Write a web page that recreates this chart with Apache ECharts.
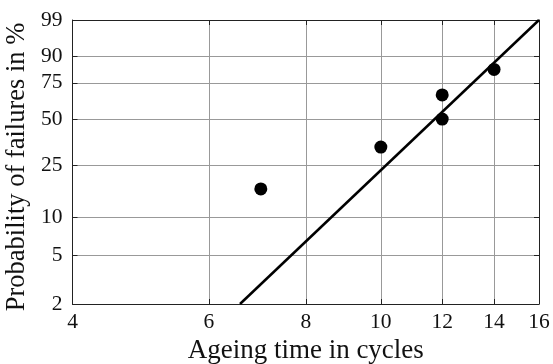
<!DOCTYPE html>
<html><head><meta charset="utf-8">
<script src="https://cdn.jsdelivr.net/npm/echarts@6/dist/echarts.min.js"></script>
<style>html,body{margin:0;padding:0;background:#fff}#c{width:553px;height:364px}</style>
</head><body><div id="c"></div>
<script>
const tickT = [4, 6, 8, 10, 12, 14, 16];
const tickP = [2, 5, 10, 25, 50, 75, 90, 99];
const failT = [7, 10, 12, 12, 14];
const failP = [16.67, 33.33, 50, 66.67, 83.33];
const fitT = [6.58, 16];
const fitP = [2, 99];

const fx = t => Math.log(t);
const fy = p => Math.log(-Math.log(1 - p / 100));
const ix = v => Math.round(Math.exp(v));
const iy = v => Math.round(100 * (1 - Math.exp(-Math.exp(v))));
const FONT = "'Liberation Serif', 'DejaVu Serif', serif";
const xs = tickT.map(fx), ys = tickP.map(fy);
const xmin = fx(tickT[0]), xmax = fx(tickT[tickT.length - 1]);
const ymin = fy(tickP[0]), ymax = fy(tickP[tickP.length - 1]);

function xAx(show) {
  return {
    type: 'value', min: xmin, max: xmax, position: show ? 'bottom' : 'top',
    name: show ? 'Ageing time in cycles' : '', nameLocation: 'middle', nameGap: 30,
    nameTextStyle: { fontFamily: FONT, fontSize: 27, color: '#111' },
    axisLine: { show: true, onZero: false, lineStyle: { color: '#222', width: 1 } },
    axisTick: { show: true, inside: true, length: 5, customValues: xs, lineStyle: { color: '#222' } },
    axisLabel: { show: show, customValues: xs, formatter: v => ix(v), margin: 7,
      fontFamily: FONT, fontSize: 21.5, color: '#111' },
    splitLine: { show: show, lineStyle: { color: '#999', width: 1 } }
  };
}
function yAx(show) {
  return {
    type: 'value', min: ymin, max: ymax, position: show ? 'left' : 'right',
    name: show ? 'Probability of failures in %' : '', nameLocation: 'middle', nameGap: 37,
    nameTextStyle: { fontFamily: FONT, fontSize: 26.5, color: '#111', padding: [0, 10, 0, 0] },
    axisLine: { show: true, onZero: false, lineStyle: { color: '#222', width: 1 } },
    axisTick: { show: true, inside: true, length: 5, customValues: ys, lineStyle: { color: '#222' } },
    axisLabel: { show: show, customValues: ys, formatter: v => iy(v), margin: 10,
      fontFamily: FONT, fontSize: 21.5, color: '#111' },
    splitLine: { show: show, lineStyle: { color: '#999', width: 1 } }
  };
}

const chart = echarts.init(document.getElementById('c'), null, { renderer: 'canvas' });
chart.setOption({
  animation: false,
  grid: { left: 72.5, right: 14, top: 20, bottom: 60, containLabel: false, outerBoundsMode: 'none' },
  xAxis: [xAx(true), xAx(false)],
  yAxis: [yAx(true), yAx(false)],
  series: [
    { type: 'line', data: fitT.map((t, i) => [fx(t), fy(fitP[i])]), symbol: 'none',
      lineStyle: { color: '#000', width: 2.5 }, z: 3 },
    { type: 'scatter', data: failT.map((t, i) => [fx(t), fy(failP[i])]), symbol: 'circle',
      symbolSize: 13, itemStyle: { color: '#000', opacity: 1 }, z: 4 }
  ]
});
</script></body></html>
